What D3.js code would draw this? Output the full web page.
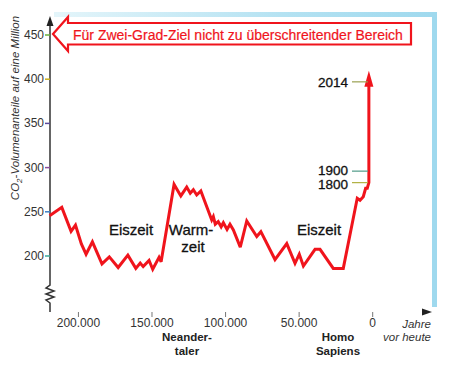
<!DOCTYPE html>
<html>
<head>
<meta charset="utf-8">
<script src="https://cdn.jsdelivr.net/npm/d3@7"></script>
<style>
  body { margin: 0; background: #fff; }
  svg { display: block; font-family: "Liberation Sans", Arial, sans-serif; }
</style>
</head>
<body>
<div id="chart"></div>
<script>
// thousand years before today, and CO2 in ppm
let kyears = [219.6, 211.3, 205, 202, 198, 194.8, 190.5, 184, 179, 173, 166.4, 161, 158, 156, 152, 149.5, 145.2, 143.8,
  135, 130.4, 126.4, 124, 121.9, 119.6, 116.8, 109.4, 108.3, 107, 105, 103, 101.5, 99, 97, 94.7, 90, 85.6, 78.8, 76,
  66.4, 58.4, 52.8, 49.9, 47.1, 39.2, 35.8, 26.8, 20, 10.5, 8.6, 6.4, 4.8, 3.7, 2.6, 2.6, 2.6];
let co2 = [245.6, 255, 228, 235, 213.6, 202, 216, 191, 199, 187, 201, 186, 192, 188, 195, 185, 198.5, 193.5,
  281, 268, 278, 271, 275, 269, 273.5, 240.7, 244.5, 236, 239, 233, 237.7, 230, 236, 229.4, 210, 239.6, 222, 227.5,
  196, 214, 191.7, 202, 188.7, 207.6, 207.6, 186, 186, 265.3, 263, 267, 276.6, 276.6, 283, 296, 397];

let yTicks = [200, 250, 300, 350, 400, 450];
let yTickColors = ["#3fa89a", "#3f7fc4", "#8a4f9c", "#5a4a9c", "#c8b020", "#6ab040"];
let xTicks = [200, 150, 100, 50, 0];
let yearMarks = ["2014", "1900", "1800"];
let yearValues = [397, 296, 283];
let yearColors = ["#9aa050", "#4f9a88", "#b0b040"];

let width = 449, height = 367;
let red = "#f0141c";

let svg = d3.select("#chart").append("svg")
  .attr("width", width)
  .attr("height", height);

let x = d3.scaleLinear().domain([220, 0]).range([49, 372.7]);
let y = d3.scaleLinear().domain([200, 450]).range([256, 35]);
let axisY = 312, axisX = 50;

let defs = svg.append("defs");
let frameGrad = defs.append("linearGradient").attr("id", "frameGrad");
frameGrad.append("stop").attr("offset", "0%").attr("stop-color", "#e4f5fa");
frameGrad.append("stop").attr("offset", "60%").attr("stop-color", "#b4e2f2");
frameGrad.append("stop").attr("offset", "100%").attr("stop-color", "#9fd9ee");

let axisGrad = defs.append("linearGradient").attr("id", "axisGrad");
[["0%", "#8a4fa0"], ["30%", "#6a7a40"], ["55%", "#8aa040"], ["75%", "#3aa0a0"], ["92%", "#c8607a"], ["100%", "#333"]]
  .forEach(s => axisGrad.append("stop").attr("offset", s[0]).attr("stop-color", s[1]));

// light blue frame, top and right
svg.append("rect").attr("x", 54).attr("y", 12).attr("width", 383).attr("height", 5).attr("fill", "url(#frameGrad)");
svg.append("rect").attr("x", 432).attr("y", 12).attr("width", 5).attr("height", 295).attr("fill", "#9fd9ee");

// y axis with break
svg.append("path")
  .attr("d", `M${axisX},${axisY}V303l-4,-3l8,-3l-8,-3l8,-3l-8,-3l4,-3V24`)
  .attr("fill", "none").attr("stroke", "#333").attr("stroke-width", 1.5);
svg.append("path").attr("d", `M${axisX},16l-3.5,10h7z`).attr("fill", "#222");

// y ticks
let yt = svg.append("g");
yt.selectAll("line").data(yTicks).join("line")
  .attr("x1", axisX - 5).attr("x2", axisX)
  .attr("y1", d => y(d)).attr("y2", d => y(d))
  .attr("stroke", (d, i) => yTickColors[i]).attr("stroke-width", 1.5);
yt.selectAll("text").data(yTicks).join("text")
  .attr("x", axisX - 6).attr("y", d => y(d) + 4)
  .attr("text-anchor", "end").attr("font-size", 12).attr("fill", "#333")
  .text(d => d);

// x axis
svg.append("line").attr("x1", 46).attr("x2", 425).attr("y1", axisY).attr("y2", axisY)
  .attr("stroke", "url(#axisGrad)").attr("stroke-width", 1.5);
svg.append("path").attr("d", `M432,${axisY}l-10,-3.5v7z`).attr("fill", "#222");
let xt = svg.append("g");
xt.selectAll("line").data(xTicks).join("line")
  .attr("x1", d => x(d)).attr("x2", d => x(d))
  .attr("y1", axisY).attr("y2", axisY + 5)
  .attr("stroke", "#777").attr("stroke-width", 1);
xt.selectAll("text").data(xTicks).join("text")
  .attr("x", d => x(d)).attr("y", 327)
  .attr("text-anchor", "middle").attr("font-size", 12).attr("fill", "#333")
  .text(d => d === 0 ? "0" : d3.format(",")(d * 1000).replace(/,/g, "."));

// axis titles
svg.append("text")
  .attr("transform", "translate(19,108) rotate(-90)")
  .attr("text-anchor", "middle").attr("font-size", 11.5).attr("font-style", "italic").attr("fill", "#333")
  .call(t => {
    t.append("tspan").text("CO");
    t.append("tspan").attr("font-size", 8).attr("dy", 3).text("2");
    t.append("tspan").attr("dy", -3).text("-Volumenanteile auf eine Million");
  });
svg.append("text").attr("x", 431).attr("y", 328).attr("text-anchor", "end")
  .attr("font-size", 11.5).attr("font-style", "italic").attr("fill", "#333").text("Jahre");
svg.append("text").attr("x", 431).attr("y", 341).attr("text-anchor", "end")
  .attr("font-size", 11.5).attr("font-style", "italic").attr("fill", "#333").text("vor heute");

// era labels below axis
[["Neander-", 187, 341], ["taler", 187, 355], ["Homo", 338, 341], ["Sapiens", 338, 355]].forEach(l => {
  svg.append("text").attr("x", l[1]).attr("y", l[2]).attr("text-anchor", "middle")
    .attr("font-size", 11.5).attr("font-weight", "bold").attr("fill", "#222").text(l[0]);
});

// period labels
[["Eiszeit", 131, 235], ["Warm-", 191, 235], ["zeit", 193, 252], ["Eiszeit", 319, 235]].forEach(l => {
  svg.append("text").attr("x", l[1]).attr("y", l[2]).attr("text-anchor", "middle")
    .attr("font-size", 15).attr("fill", "#111").attr("stroke", "#111").attr("stroke-width", 0.3).text(l[0]);
});

// co2 line
let pts = kyears.map((k, i) => [k, co2[i]]);
let line = d3.line().x(d => x(d[0])).y(d => y(d[1])).curve(d3.curveLinear);
svg.append("path").datum(pts)
  .attr("d", line)
  .attr("fill", "none").attr("stroke", red).attr("stroke-width", 3)
  .attr("stroke-linejoin", "miter").attr("stroke-miterlimit", 3);
let last = pts[pts.length - 1];
let ex = x(last[0]), ey = y(last[1]);
svg.append("path").attr("d", `M${ex},${ey - 11}l-4.5,16h9z`).attr("fill", red);

// year marks on the rise, the two close ones nudged apart a little
let nudge = [0, -1, 1];
let ym = svg.append("g");
ym.selectAll("line").data(yearValues).join("line")
  .attr("x1", 352).attr("x2", ex - 1)
  .attr("y1", d => y(d)).attr("y2", d => y(d))
  .attr("stroke", (d, i) => yearColors[i]).attr("stroke-width", 1.2);
ym.selectAll("text").data(yearMarks).join("text")
  .attr("x", 348).attr("y", (d, i) => y(yearValues[i]) + 5 + nudge[i])
  .attr("text-anchor", "end").attr("font-size", 13.5).attr("fill", "#111")
  .attr("stroke", "#111").attr("stroke-width", 0.3)
  .text(d => d);

// callout arrow
let callout = svg.append("g");
callout.append("path")
  .attr("d", "M53,34L68,17V23H411V44.5H68V51Z")
  .attr("fill", "#fff").attr("stroke", red).attr("stroke-width", 2.2).attr("stroke-linejoin", "miter");
callout.append("text").attr("x", 73).attr("y", 39.5)
  .attr("font-size", 14).attr("fill", red).attr("stroke", red).attr("stroke-width", 0.2)
  .text("Für Zwei-Grad-Ziel nicht zu überschreitender Bereich");
</script>
</body>
</html>
